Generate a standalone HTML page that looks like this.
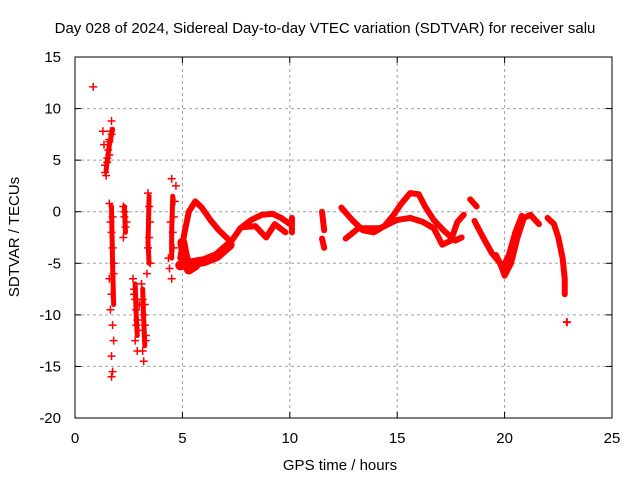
<!DOCTYPE html>
<html><head><meta charset="utf-8"><style>
body{margin:0;background:#fff;}
svg{display:block;font-family:"Liberation Sans",sans-serif;}
</style></head><body>
<svg id="chart" width="640" height="480" viewBox="0 0 640 480">
<text x="325" y="33" text-anchor="middle" font-size="15">Day 028 of 2024, Sidereal Day-to-day VTEC variation (SDTVAR) for receiver salu</text>
<text x="340" y="470" text-anchor="middle" font-size="15">GPS time / hours</text>
<text transform="translate(19,237) rotate(-90)" text-anchor="middle" font-size="15">SDTVAR / TECUs</text>
<g id="grid"></g><g id="marks"></g>
<rect x="75" y="57" width="537" height="361" fill="none" stroke="#000" stroke-width="1"/>
</svg>
<script>
const xTicks=[0,5,10,15,20,25];
const yTicks=[15,10,5,0,-5,-10,-15,-20];
// continuous tracks: [hour, value]
const trackA=[[4.9,-4.5],[5.1,-2],[5.3,0],[5.6,1],[5.9,0.4],[6.3,-0.8],[6.7,-1.8],[7.1,-2.6]];
const trackB=[[4.9,-5.2],[5.4,-5],[6,-4.8],[6.6,-4.3],[7.2,-3.2]];
const trackB2=[[5,-3],[5.1,-4.2],[5.3,-5.6],[5.6,-5.2]];
const trackC=[[7.3,-2.8],[7.7,-1.6],[8.2,-0.8],[8.7,-0.3],[9.2,-0.2],[9.6,-0.6],[10,-1.2]];
const trackD=[[7.8,-1.5],[8.4,-1.4],[8.9,-2.5],[9.3,-1.2],[9.8,-2]];
const trackE=[[10.1,-0.6],[10.1,-2]];
const trackF=[[11.5,0],[11.6,-1.8]];
const trackG=[[11.5,-2.6],[11.6,-3.5]];
const trackH=[[12.4,0.4],[12.9,-0.8],[13.4,-1.8],[13.9,-2],[14.4,-1.4],[14.8,-0.4],[15.2,0.8],[15.6,1.8],[16,1.7],[16.3,0.5],[16.7,-0.8],[17.2,-1.9],[17.7,-2.8],[18,-2.5]];
const trackI=[[12.6,-2.6],[13.2,-1.6],[14.2,-1.6],[15,-0.8],[15.6,-0.6],[16.2,-1],[16.7,-1.6],[17.1,-3.2],[17.5,-2.8],[17.8,-1],[18.1,-0.3]];
const trackJ=[[18.4,1.2],[18.7,0.5]];
const trackK=[[18.6,-0.9],[19,-2.5],[19.4,-4],[19.8,-5],[20,-6.2],[20.3,-5],[20.6,-2.5],[20.9,-0.6],[21.2,-0.3],[21.6,-1.2]];
const trackL=[[19.6,-4.2],[19.9,-5.5],[20.2,-4.2],[20.5,-2],[20.8,-0.4]];
const trackM=[[22,-0.6],[22.3,-1.2],[22.5,-2.5],[22.7,-4.5],[22.8,-6.5],[22.8,-8]];
// cluster columns [hour, value]
const colA=[[1.45,4],[1.6,6.5],[1.75,8]];
const colB=[[1.7,0.5],[1.75,-5],[1.8,-9]];
const colC=[[2.3,0.5],[2.35,-2]];
const colD=[[2.8,-7],[2.85,-10],[2.9,-12]];
const colE=[[3.15,-7.5],[3.2,-10.5],[3.25,-13]];
const colF=[[3.45,1.5],[3.4,-3],[3.45,-5]];
const colG=[[4.55,1.5],[4.5,-2],[4.5,-4.5]];
// scattered points
const scatterT=[0.85,1.3,1.35,1.4,1.45,1.5,1.55,1.6,1.65,1.7,1.5,1.6,1.7,1.4,1.6,
1.6,1.65,1.7,1.75,1.8,1.6,1.7,1.65,1.75,1.8,1.7,1.75,1.7,1.8,1.75,
2.25,2.3,2.35,2.25,2.3,2.4,
2.7,2.75,2.8,2.85,2.9,2.95,2.8,2.9,2.75,3.0,2.85,
3.1,3.15,3.2,3.25,3.3,3.15,3.2,3.25,3.3,
3.4,3.45,3.5,3.45,3.4,3.5,3.35,
4.35,4.4,4.5,4.55,4.6,4.65,4.7,4.5,4.6,4.45];
const scatterV=[12.1,7.8,6.5,4.5,3.5,5.2,6,7,7.8,8.8,4.8,5.5,7.5,3.8,6.8,
0.8,-1,-2,-3.5,-5,-6.5,-8,-9.5,-11,-12.5,-14,-15.5,-16,-6,-0.5,
0.5,-0.5,-1.5,-2.5,0,-1,
-6.5,-7.5,-8.5,-9.5,-10.5,-11.5,-12.5,-13.5,-8,-9,-11,
-7,-8.5,-10,-11,-12,-13.5,-14.5,-9,-12.5,
1.8,0.5,-1,-2.5,-3.5,-5,-6,
-4.5,-5.5,-6.5,-2,-0.5,1,2.5,3.2,-3.5,-1];
const X0=75,X1=612,Y0=418,Y1=57;
const xs=t=>X0+(t-0)/25*(X1-X0);
const ys=v=>Y0-(v+20)/35*(Y0-Y1);
const NS="http://www.w3.org/2000/svg";
const grid=document.getElementById('grid'),marks=document.getElementById('marks');
function mk(tag,attrs,parent){const e=document.createElementNS(NS,tag);for(const k in attrs)e.setAttribute(k,attrs[k]);parent.appendChild(e);return e;}
xTicks.forEach(t=>{
  const x=xs(t);
  if(t>0&&t<25){const l=mk('line',{x1:x,x2:x,y1:Y1,y2:Y0,stroke:'#a0a0a0','stroke-dasharray':'3,3'},grid);
  
  }
  mk('line',{x1:x,x2:x,y1:Y0,y2:Y0-6,stroke:'#000'},grid);
  mk('line',{x1:x,x2:x,y1:Y1,y2:Y1+6,stroke:'#000'},grid);
  const tx=mk('text',{x:x,y:443,'text-anchor':'middle','font-size':15},grid);tx.textContent=t;
  
  
});
yTicks.forEach(v=>{
  const y=ys(v);
  if(v<15&&v>-20){const l=mk('line',{x1:X0,x2:X1,y1:y,y2:y,stroke:'#a0a0a0','stroke-dasharray':'3,3'},grid);
  
  }
  mk('line',{x1:X0,x2:X0+6,y1:y,y2:y,stroke:'#000'},grid);
  mk('line',{x1:X1,x2:X1-6,y1:y,y2:y,stroke:'#000'},grid);
  const tx=mk('text',{x:61,y:y+5,'text-anchor':'end','font-size':15},grid);tx.textContent=v;
  
  
});
[colA,colB,colC,colD,colE,colF,colG].forEach(tr=>{
  const p=mk('polyline',{points:tr.map(d=>xs(d[0])+','+ys(d[1])).join(' '),fill:'none',stroke:'#f00','stroke-width':5,'stroke-linejoin':'round','stroke-linecap':'round'},marks);
  
  
});
[trackA,trackB,trackB2,trackC,trackD,trackE,trackF,trackG,trackH,trackI,trackJ,trackK,trackL,trackM].forEach((tr,i)=>{
  const p=mk('polyline',{points:tr.map(d=>xs(d[0])+','+ys(d[1])).join(' '),fill:'none',stroke:'#f00','stroke-width':(i===1||i===2)?10:6,'stroke-linejoin':'round','stroke-linecap':'round'},marks);
  
  
});
scatterT.forEach((t,i)=>{
  const x=xs(t),y=ys(scatterV[i]);
  const p=mk('path',{d:`M${x-4},${y}H${x+4}M${x},${y-4}V${y+4}`,stroke:'#f00','stroke-width':1.5},marks);
  
  
});
const pe=mk('path',{d:`M${xs(22.9)-4},${ys(-10.7)}H${xs(22.9)+4}M${xs(22.9)},${ys(-10.7)-4}V${ys(-10.7)+4}`,stroke:'#f00','stroke-width':2},marks);


</script>
</body></html>
